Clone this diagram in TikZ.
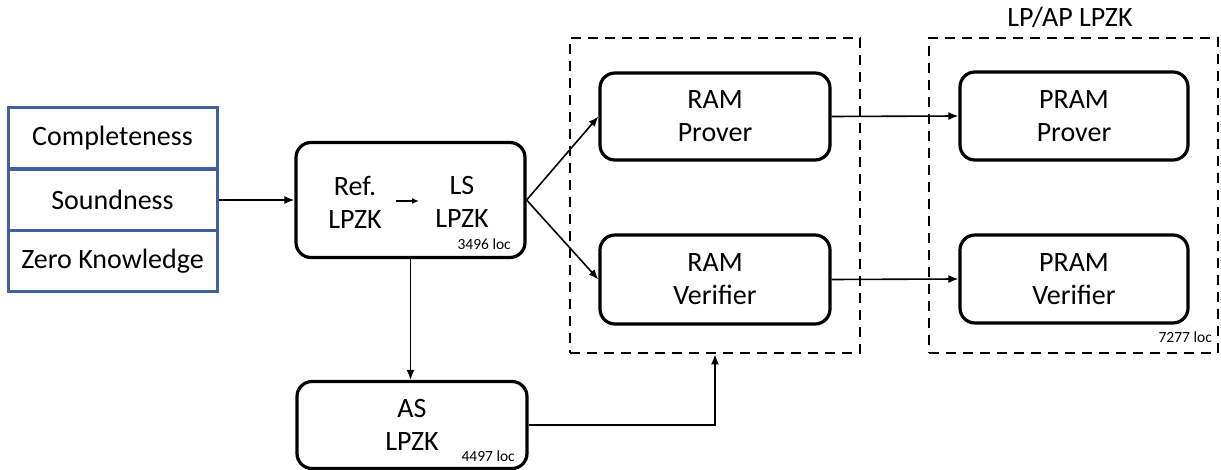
\documentclass[tikz,border=0pt]{standalone}
\usepackage{fontspec}
\setmainfont{Carlito}
\usetikzlibrary{arrows.meta}
\definecolor{tblue}{RGB}{64,96,160}
\tikzset{
  cell/.style={draw=tblue,line width=3pt,minimum width=209pt,minimum height=61pt,inner sep=0pt,font=\fontsize{28}{33}\selectfont},
  rbox/.style={draw,line width=3.2pt,rounded corners=15pt,inner sep=0pt,align=center,font=\fontsize{28}{33}\selectfont},
  dbox/.style={draw,line width=2.6pt,dash pattern=on 10pt off 7pt,inner sep=0pt},
  conn/.style={line width=1.6pt,-{Latex[length=10pt,width=8pt]}},
  big/.style={inner sep=0pt,align=center,font=\fontsize{28}{33}\selectfont},
  small/.style={inner sep=0pt,font=\fontsize{15.5}{18}\selectfont}
}
\begin{document}
\begin{tikzpicture}[x=1pt,y=-1pt]
\useasboundingbox (0,0) rectangle (1221,470);
% dashed groups
\node[dbox,minimum width=290pt,minimum height=315pt] (d1) at (715,195.5) {};
\node[dbox,minimum width=289pt,minimum height=315pt] (d2) at (1073.5,195.5) {};
\node[big] (title) at (1070,17) {LP/AP LPZK};
\node[small,anchor=south east] (loc3) at (1212,343) {7277 loc};
% table
\node[cell] (c1) at (112.5,138.5) {Completeness};
\node[cell] (c2) at (112.5,200) {Soundness};
\node[cell] (c3) at (112.5,261.5) {Zero Knowledge};
% ref box
\node[rbox,minimum width=229pt,minimum height=115pt] (ref) at (410.5,200) {};
\node[big] (reft) at (355,202) {Ref.\\LPZK};
\node[big] (lst) at (462,202) {LS\\LPZK};
\node[small,anchor=south east] (loc1) at (511,250) {3496 loc};
\coordinate (sa) at (396,201);
\coordinate (sb) at (419,201);
\draw[line width=1.6pt,-{Latex[length=7pt,width=6pt]}] (sa) -- (sb);
% AS box
\node[rbox,minimum width=230pt,minimum height=87pt] (as) at (412,425) {AS\\LPZK};
\node[small,anchor=south east] (loc2) at (515,462) {4497 loc};
% RAM boxes
\node[rbox,minimum width=230pt,minimum height=87pt] (rp) at (715,116.5) {RAM\\Prover};
\node[rbox,minimum width=230pt,minimum height=89pt] (rv) at (715,279.5) {RAM\\Verifier};
% PRAM boxes
\node[rbox,minimum width=228pt,minimum height=88pt] (pp) at (1074,116) {PRAM\\Prover};
\node[rbox,minimum width=228pt,minimum height=88pt] (pv) at (1074,279) {PRAM\\Verifier};
% connectors
\draw[conn] (c2.east) -- (ref.west);
\draw[conn] (ref.east) -- (rp.west);
\draw[conn] (ref.east) -- (rv.west);
\draw[conn] (ref.south) -- (ref.south |- as.north);
\draw[conn] (as.east) -| (d1.south);
\draw[conn] (rp.east) -- (pp.west);
\draw[conn] (rv.east) -- (pv.west);
\end{tikzpicture}
\end{document}
